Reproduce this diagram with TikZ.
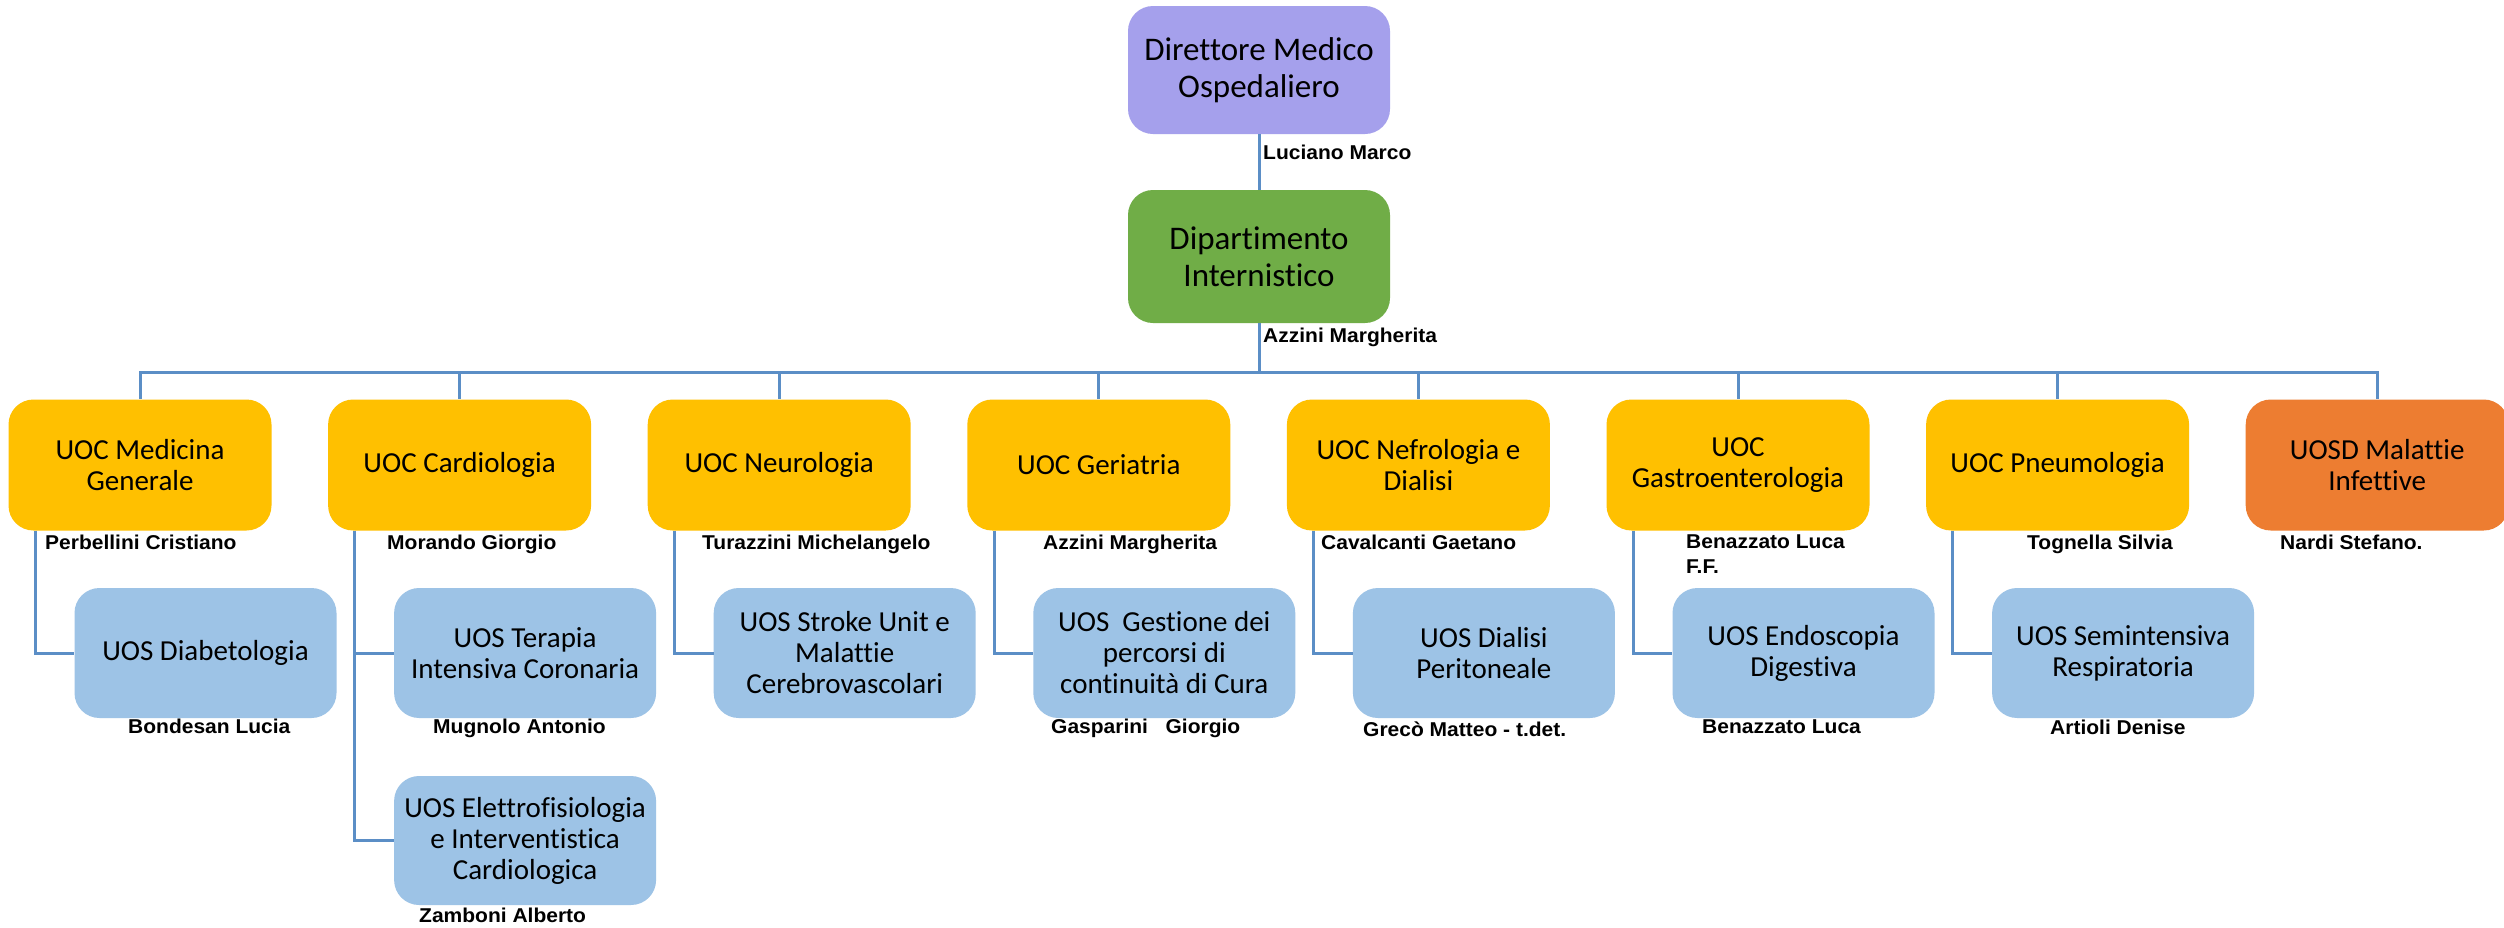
\documentclass[tikz,border=0pt]{standalone}
\usepackage{fontspec}
\setmainfont{Carlito}[Ligatures=NoCommon]
\newfontfamily\namefont[FakeStretch=1.05]{Liberation Sans}
\usepackage{xcolor}

\definecolor{dirlilla}{HTML}{A5A0EC}
\definecolor{dipverde}{HTML}{70AD47}
\definecolor{uocgiallo}{HTML}{FFC000}
\definecolor{uosdarancio}{HTML}{ED7D31}
\definecolor{uosazzurro}{HTML}{9DC3E6}
\definecolor{linea}{HTML}{5B8EC6}

\tikzset{
  unita/.style={rounded corners=25pt, inner sep=0pt, align=center},
  vertice/.style={unita, minimum width=262pt, font=\fontsize{33}{37}\selectfont},
  uoc/.style={unita, fill=uocgiallo, minimum width=263pt, minimum height=131pt, font=\fontsize{29}{31}\selectfont},
  uos/.style={unita, fill=uosazzurro, minimum width=262pt, minimum height=130pt, font=\fontsize{29}{31}\selectfont},
  resp/.style={anchor=base west, inner sep=0pt, align=left, font=\namefont\bfseries\fontsize{20}{25}\selectfont},
  filo/.style={draw=linea, line width=3pt}
}

\begin{document}
\begin{tikzpicture}[x=1pt, y=-1pt]
 \path[use as bounding box, fill=white] (0,0) rectangle (2504,927);

 % vertice
 \node[vertice, fill=dirlilla, minimum height=128pt] (direttore) at (1259,70) {Direttore Medico\\Ospedaliero};
 \node[vertice, fill=dipverde, minimum height=133pt] (dipartimento) at (1259,256.5) {Dipartimento\\Internistico};
 \coordinate (bus) at (1259,372);

 % UOC
 \node[uoc] (medgen) at (140,465) {UOC Medicina\\Generale};
 \node[uoc] (cardio) at (459.6,465) {UOC Cardiologia};
 \node[uoc] (neuro) at (779.2,465) {UOC Neurologia};
 \node[uoc] (geria) at (1098.8,465) {UOC Geriatria};
 \node[uoc] (nefro) at (1418.4,465) {UOC Nefrologia e\\Dialisi};
 \node[uoc] (gastro) at (1738,465) {UOC\\Gastroenterologia};
 \node[uoc] (pneumo) at (2057.6,465) {UOC Pneumologia};
 \node[uoc, fill=uosdarancio] (infett) at (2377.2,465) {UOSD Malattie\\Infettive};

 % UOS
 \node[uos] (diabeto) at (205.5,653) {UOS Diabetologia};
 \node[uos] (utic) at (525.1,653) {UOS Terapia\\Intensiva Coronaria};
 \node[uos, minimum height=129pt] (elettro) at (525.1,840.5) {UOS Elettrofisiologia\\e Interventistica\\Cardiologica};
 \node[uos] (stroke) at (844.7,653) {UOS Stroke Unit e\\Malattie\\Cerebrovascolari};
 \node[uos] (gestione) at (1164.3,653) {UOS~~Gestione dei\\percorsi di\\continuità di Cura};
 \node[uos] (dialisi) at (1483.9,653) {UOS Dialisi\\Peritoneale};
 \node[uos] (endosc) at (1803.5,653) {UOS Endoscopia\\Digestiva};
 \node[uos] (semint) at (2123.1,653) {UOS Semintensiva\\Respiratoria};

 % collegamenti
 \draw[filo] (direttore) -- (dipartimento);
 \draw[filo] (dipartimento.south) -- (bus);
 \foreach \u in {medgen,cardio,neuro,geria,nefro,gastro,pneumo,infett}
  \draw[filo] (bus) -| (\u.north);
 \draw[filo] ([xshift=27pt]medgen.south west) |- (diabeto.west);
 \draw[filo] ([xshift=27pt]cardio.south west) |- (utic.west);
 \draw[filo] ([xshift=27pt]cardio.south west) |- (elettro.west);
 \draw[filo] ([xshift=27pt]neuro.south west) |- (stroke.west);
 \draw[filo] ([xshift=27pt]geria.south west) |- (gestione.west);
 \draw[filo] ([xshift=27pt]nefro.south west) |- (dialisi.west);
 \draw[filo] ([xshift=27pt]gastro.south west) |- (endosc.west);
 \draw[filo] ([xshift=27pt]pneumo.south west) |- (semint.west);

 % responsabili
 \node[resp] (r-dir) at (1263,159) {Luciano Marco};
 \node[resp] (r-dip) at (1263,342) {Azzini Margherita};
 \node[resp] (r-medgen) at (45,549) {Perbellini Cristiano};
 \node[resp] (r-cardio) at (387,549) {Morando Giorgio};
 \node[resp] (r-neuro) at (702,549) {Turazzini Michelangelo};
 \node[resp] (r-geria) at (1043,549) {Azzini Margherita};
 \node[resp] (r-nefro) at (1321,549) {Cavalcanti Gaetano};
 \node[resp] (r-gastro) at (1686,573) {Benazzato Luca\\F.F.};
 \node[resp] (r-pneumo) at (2027,549) {Tognella Silvia};
 \node[resp] (r-infett) at (2280,549) {Nardi Stefano.};
 \node[resp] (r-diabeto) at (128,733) {Bondesan Lucia};
 \node[resp] (r-utic) at (433,733) {Mugnolo Antonio};
 \node[resp] (r-elettro) at (419,922) {Zamboni Alberto};
 \node[resp] (r-gestione) at (1051,733) {Gasparini~~~Giorgio};
 \node[resp] (r-dialisi) at (1363,736) {Grecò Matteo - t.det.};
 \node[resp] (r-endosc) at (1702,733) {Benazzato Luca};
 \node[resp] (r-semint) at (2050,734) {Artioli Denise};
\end{tikzpicture}
\end{document}
